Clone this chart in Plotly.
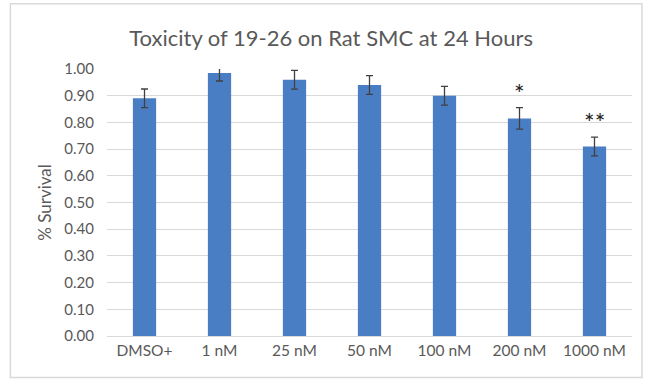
import plotly.graph_objects as go

categories = ["DMSO+", "1 nM", "25 nM", "50 nM", "100 nM", "200 nM", "1000 nM"]
survival = [0.89, 0.985, 0.96, 0.94, 0.90, 0.815, 0.71]
errors = [0.035, 0.03, 0.035, 0.035, 0.035, 0.04, 0.035]
significance = ["", "", "", "", "", "*", "**"]
y_ticks = [round(i * 0.1, 1) for i in range(11)]
y_tick_labels = [f"{v:.2f}" for v in y_ticks]

font_family = "Lato, 'Open Sans', sans-serif"
text_gray = "#595959"

fig = go.Figure()
fig.add_trace(go.Bar(
    x=categories,
    y=survival,
    marker=dict(color="#4A7EC4", line=dict(width=0)),
    width=0.31,
    error_y=dict(type="data", array=errors, visible=True,
                 color="#404040", thickness=1.3, width=3.5),
    hoverinfo="x+y",
))

for cat, val, err, sig in zip(categories, survival, errors, significance):
    if sig:
        fig.add_annotation(x=cat, y=val + err, text=sig, showarrow=False,
                           yanchor="bottom", yshift=-2,
                           font=dict(family=font_family, size=25, color="#222222"))

fig.add_shape(type="rect", xref="paper", yref="paper",
              x0=-0.184, x1=1.019, y0=-0.155, y1=1.244,
              line=dict(color="#D9D9D9", width=1.5), fillcolor="rgba(0,0,0,0)",
              layer="below")

fig.update_layout(
    width=653, height=381,
    margin=dict(l=107, r=21, t=69, b=45),
    paper_bgcolor="white", plot_bgcolor="white",
    title=dict(text="Toxicity of 19-26 on Rat SMC at 24 Hours",
               x=0.507, xanchor="center", y=0.9, yanchor="middle",
               font=dict(family=font_family, size=22, color=text_gray)),
    showlegend=False,
    bargap=0.69,
    font=dict(family=font_family, size=15, color=text_gray),
)
fig.update_xaxes(showgrid=False, showline=True, linecolor="#D9D9D9", linewidth=1,
                 ticks="", tickfont=dict(family=font_family, size=15.5, color=text_gray))
fig.update_yaxes(range=[0, 1.0], tickvals=y_ticks, ticktext=y_tick_labels,
                 showgrid=True, gridcolor="#D9D9D9", gridwidth=1, zeroline=False,
                 ticks="", ticklabelstandoff=12,
                 title=dict(text="% Survival", standoff=8,
                            font=dict(family=font_family, size=17, color=text_gray)),
                 tickfont=dict(family=font_family, size=15, color=text_gray))

fig.write_html("out.html", config={"displayModeBar": False},
               post_script="document.body.style.margin='0';")
